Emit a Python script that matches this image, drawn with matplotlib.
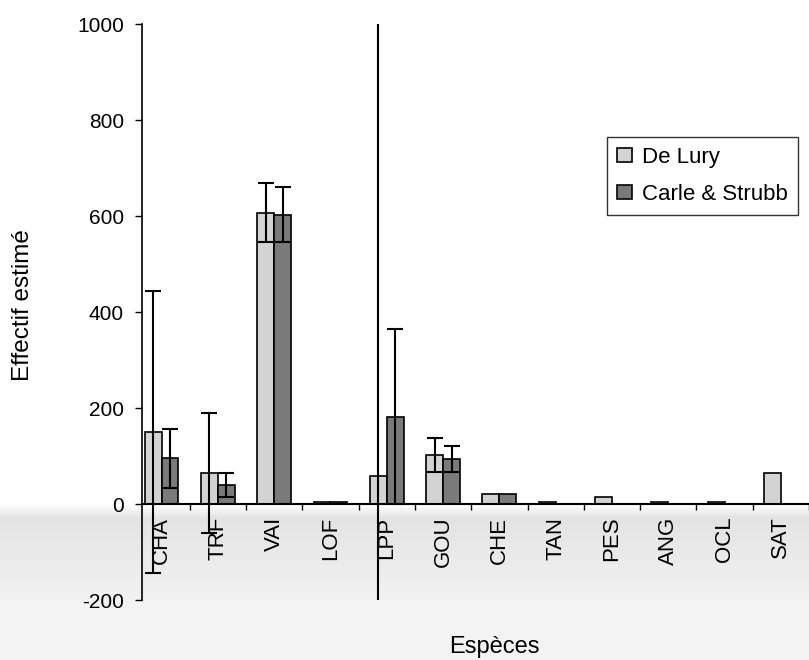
import numpy as np
import matplotlib
matplotlib.use("Agg")
import matplotlib.pyplot as plt

# ---- data ----
categories = ["CHA", "TRF", "VAI", "LOF", "LPP", "GOU", "CHE", "TAN", "PES", "ANG", "OCL", "SAT"]
delury = [150, 65, 607, 5, 58, 102, 20, 4, 15, 4, 4, 65]
delury_err = [293, 125, 62, 0, 1200, 35, 0, 0, 0, 0, 0, 0]
carle = [95, 40, 603, 5, 182, 93, 20, 0, 0, 0, 0, 0]
carle_err = [62, 25, 57, 0, 182, 27, 0, 0, 0, 0, 0, 0]
yticks = [-200, 0, 200, 400, 600, 800, 1000]

plt.rcParams['font.family'] = ['Liberation Sans', 'DejaVu Sans']

W, H = 809, 660
fig = plt.figure(figsize=(W / 100, H / 100), dpi=100)

# scanned-paper background shading
grad = np.ones(H)
rows = np.arange(H)
m0 = (rows >= 505) & (rows < 518)
grad[m0] = np.linspace(0.99, 0.89, m0.sum())
m = (rows >= 518) & (rows < 600)
grad[m] = np.linspace(0.89, 0.945, m.sum())
grad[rows >= 600] = 0.95
bg = fig.add_axes([0, 0, 1, 1], zorder=0)
bg.imshow(grad[:, None], cmap='gray', vmin=0, vmax=1, aspect='auto', extent=[0, 1, 0, 1])
bg.axis('off')

ax = fig.add_axes([142 / W, 60 / H, 667 / W, 576 / H], zorder=1)
ax.set_facecolor('none')
for s in ['top', 'right']:
    ax.spines[s].set_visible(False)
ax.spines['bottom'].set_position(('data', 0))
ax.spines['bottom'].set_linewidth(1.5)
ax.spines['left'].set_linewidth(1.2)

x = np.arange(len(categories))
bw = 0.30
c1, c2 = '#d3d3d3', '#7a7a7a'
ax.bar(x - bw / 2, delury, bw, color=c1, edgecolor='black', linewidth=1.2, label='De Lury', zorder=2)
ax.bar(x + bw / 2, carle, bw, color=c2, edgecolor='black', linewidth=1.2, label='Carle & Strubb', zorder=2)

de = np.array(delury_err); ce = np.array(carle_err)
md = de > 0; mc = ce > 0
ax.errorbar((x - bw / 2)[md], np.array(delury)[md], yerr=de[md], fmt='none', ecolor='black',
            elinewidth=1.5, capsize=6, capthick=1.5, zorder=3)
ax.errorbar((x + bw / 2)[mc], np.array(carle)[mc], yerr=ce[mc], fmt='none', ecolor='black',
            elinewidth=1.5, capsize=6, capthick=1.5, zorder=3)

ax.set_xlim(-0.348, 11.252)
ax.set_ylim(-200, 1000)
ax.set_yticks(yticks)
ax.set_yticklabels([str(v) for v in yticks], fontsize=15)
ax.tick_params(axis='y', length=5, width=1, pad=8, direction='out')

ax.set_xticks(x)
ax.set_xticklabels(categories, rotation=90, fontsize=16)
ax.set_xticks(np.arange(len(categories)) + 0.5, minor=True)
ax.tick_params(axis='x', which='major', length=0, pad=9)
ax.tick_params(axis='x', which='minor', length=4, width=1, direction='out')

leg = ax.legend(loc='upper right', bbox_to_anchor=(798 / W, 1 - 137 / H), bbox_transform=fig.transFigure,
                fontsize=16, frameon=True, fancybox=False, edgecolor='black', borderaxespad=0,
                handlelength=0.7, handleheight=0.6, handletextpad=0.45, labelspacing=0.7,
                borderpad=0.45)
leg.get_frame().set_linewidth(1.0)

fig.text(23 / W, 1 - 305 / H, 'Effectif estimé', rotation=90, fontsize=17.5, ha='center', va='center')
fig.text(494 / W, 1 - 653 / H, 'Espèces', fontsize=17, ha='center', va='baseline')

fig.savefig('out.png', dpi=100)
